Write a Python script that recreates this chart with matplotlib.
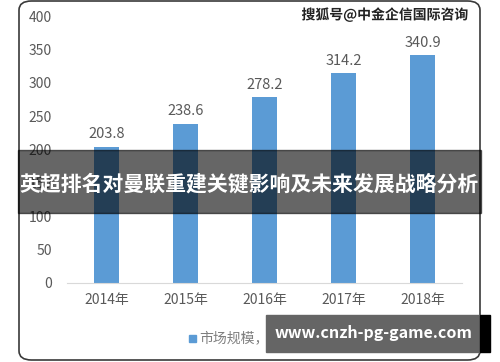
import matplotlib
matplotlib.use("Agg")
import matplotlib.pyplot as plt
import matplotlib.patheffects as pe
from matplotlib.patches import FancyBboxPatch, Rectangle

plt.rcParams['font.family'] = ['Noto Sans CJK SC', 'DejaVu Sans']

years = ['2014年', '2015年', '2016年', '2017年', '2018年']
market = [203.8, 238.6, 278.2, 314.2, 340.9]
yticks = [0, 50, 100, 150, 200, 250, 300, 350, 400]
series_name = '市场规模，亿元'
banner = '英超排名对曼联重建关键影响及未来发展战略分析'
watermark = '搜狐号@中金企信国际咨询'
site = 'www.cnzh-pg-game.com'

W, H = 500, 362
fig = plt.figure(figsize=(W / 100, H / 100), dpi=100)
fig.patch.set_facecolor('white')

def px(x, y):
    # pixel coords (top-left origin) -> figure fraction
    return x / W, 1 - y / H

# rounded frame
fx, fy = px(19, 360)
frame = FancyBboxPatch((fx, fy), 461 / W, 359 / H,
                       boxstyle='round,pad=0,rounding_size=0.025',
                       transform=fig.transFigure, fill=False,
                       edgecolor='#3a3a3a', linewidth=1.2, zorder=1)
fig.patches.append(frame)

ax = fig.add_axes([67 / W, 1 - 283 / H, 395 / W, 267 / H])
x = range(len(years))
bars = ax.bar(x, market, width=0.31, color='#5b9bd5', zorder=2)
ax.set_xlim(-0.5, len(years) - 0.5)
ax.set_ylim(0, 400)
ax.set_yticks(yticks)
ax.set_xticks(list(x))
ax.set_xticklabels(years)
ax.tick_params(axis='both', length=0, labelsize=10, colors='#595959')
ax.tick_params(axis='y', pad=11)
ax.tick_params(axis='x', pad=7)
for s in ['top', 'right', 'left']:
    ax.spines[s].set_visible(False)
ax.spines['bottom'].set_color('#d9d9d9')
ax.set_facecolor('none')

for b, v in zip(bars, market):
    ax.annotate(f'{v:.1f}', (b.get_x() + b.get_width() / 2, v),
                xytext=(0, 4), textcoords='offset points',
                ha='center', va='bottom', fontsize=10.5, color='#595959')

# legend
lx, ly = px(192, 338)
fig.patches.append(Rectangle((lx - 3 / W, ly - 4 / H), 7 / W, 7 / H,
                             transform=fig.transFigure, color='#5b9bd5'))
fig.text(lx + 7 / W, ly, series_name, fontsize=10, color='#7f7f7f',
         va='center', ha='left')

# watermark
wx, wy = px(468, 15)
fig.text(wx, wy, watermark, fontsize=10, color='#222222', ha='right',
         va='center', fontweight='bold',
         path_effects=[pe.withStroke(linewidth=2, foreground='white')])

# banner overlay
bx, by = px(18, 213)
fig.patches.append(Rectangle((bx, by), 463 / W, 63 / H,
                             transform=fig.transFigure, color='black',
                             alpha=0.6, zorder=10))
tx, ty = px(249, 184)
fig.text(tx, ty, banner, fontsize=15, color='white', fontweight='bold',
         ha='center', va='center', zorder=11)

# site box
sx, sy = px(266, 352)
fig.patches.append(Rectangle((sx, sy), 214 / W, 37 / H,
                             transform=fig.transFigure, color='#656565',
                             zorder=10))
fig.patches.append(Rectangle((480 / W, sy), 10 / W, 37 / H,
                             transform=fig.transFigure, color='black',
                             zorder=10))
tx, ty = px(373, 333)
fig.text(tx, ty, site, fontsize=11.5, color='white', fontweight='bold',
         ha='center', va='center', zorder=11)

fig.savefig('out.png', dpi=100)
